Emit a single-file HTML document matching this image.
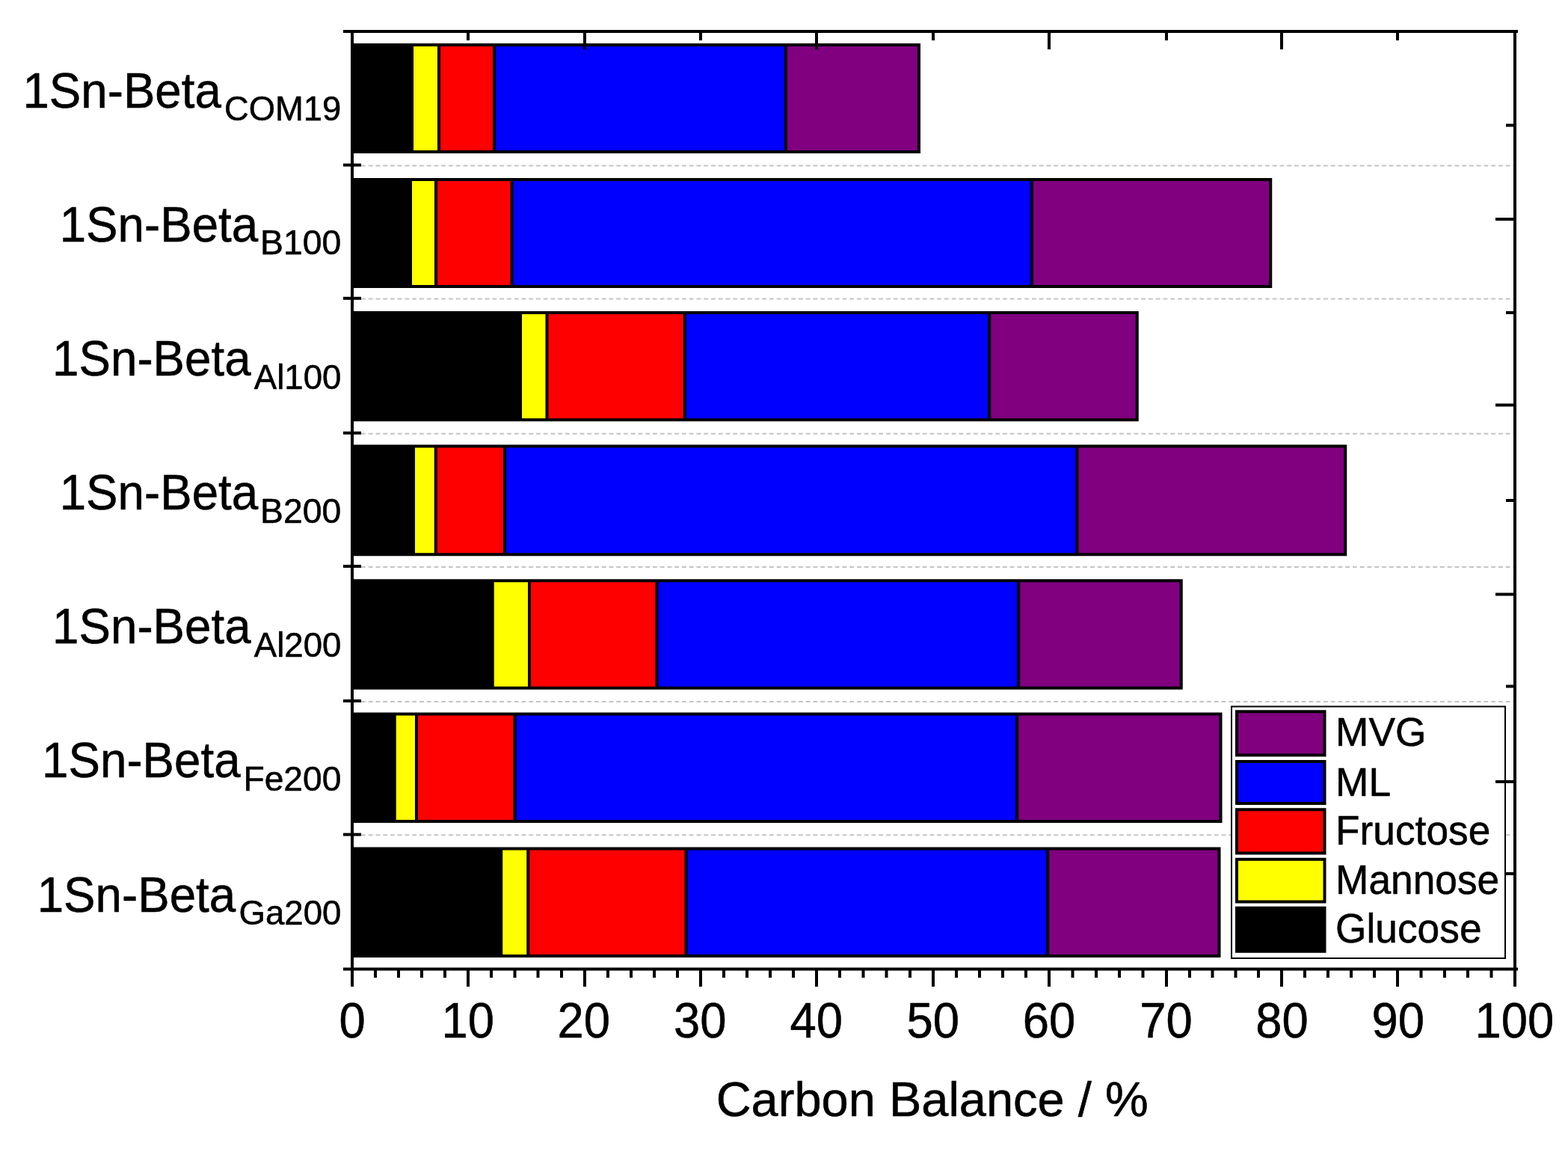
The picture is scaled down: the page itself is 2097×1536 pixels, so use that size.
<!DOCTYPE html>
<html lang="en"><head><meta charset="utf-8"><title>Carbon Balance</title>
<style>
html,body{margin:0;padding:0;background:#fff;}
body{width:2097px;height:1536px;overflow:hidden;}
svg{display:block;}
text{font-family:"Liberation Sans", Arial, Helvetica, sans-serif;fill:#000;stroke:#000;stroke-width:0.55px;stroke-linejoin:round;}
.ax{stroke:#000;fill:none;stroke-linecap:butt;}
.seg{stroke:none;}
.outline{fill:none;stroke:#000;stroke-width:4;stroke-linejoin:miter;stroke-linecap:butt;}
.grid{stroke:#c4c4c4;stroke-width:2;stroke-dasharray:5.8 3.95;fill:none;}
.ylab{font-size:65px;text-anchor:end;}
.sub{font-size:45.5px;text-anchor:end;}
.tick{font-size:65px;text-anchor:middle;}
.title{font-size:65px;text-anchor:middle;}
.leg{font-size:53.3px;}
</style></head><body>
<svg width="2097" height="1536" viewBox="0 0 2097 1536" role="img" aria-label="Stacked bar chart of carbon balance">
<rect x="0" y="0" width="2097" height="1536" fill="#ffffff"/>
<g class="grid">
<line x1="483" y1="221.4" x2="2024" y2="221.4"/>
<line x1="483" y1="399.6" x2="2024" y2="399.6"/>
<line x1="483" y1="579.7" x2="2024" y2="579.7"/>
<line x1="483" y1="757.9" x2="2024" y2="757.9"/>
<line x1="483" y1="938" x2="2024" y2="938"/>
<line x1="483" y1="1116.3" x2="2024" y2="1116.3"/>
</g>
<g>
<rect class="seg" x="471" y="60" width="80" height="143" fill="#000000"/>
<rect class="seg" x="551" y="60" width="36" height="143" fill="#ffff00"/>
<rect class="seg" x="587" y="60" width="74" height="143" fill="#ff0000"/>
<rect class="seg" x="661" y="60" width="390" height="143" fill="#0000ff"/>
<rect class="seg" x="1051" y="60" width="178" height="143" fill="#800080"/>
<path class="outline" d="M471 60H1229V203H471ZM551 60V203M587 60V203M661 60V203M1051 60V203"/>
</g>
<g>
<rect class="seg" x="471" y="240" width="78" height="143" fill="#000000"/>
<rect class="seg" x="549" y="240" width="34" height="143" fill="#ffff00"/>
<rect class="seg" x="583" y="240" width="101.5" height="143" fill="#ff0000"/>
<rect class="seg" x="684.5" y="240" width="695.5" height="143" fill="#0000ff"/>
<rect class="seg" x="1380" y="240" width="319.25" height="143" fill="#800080"/>
<path class="outline" d="M471 240H1699.25V383H471ZM549 240V383M583 240V383M684.5 240V383M1380 240V383"/>
</g>
<g>
<rect class="seg" x="471" y="418" width="225" height="143.25" fill="#000000"/>
<rect class="seg" x="696" y="418" width="35.5" height="143.25" fill="#ffff00"/>
<rect class="seg" x="731.5" y="418" width="184.25" height="143.25" fill="#ff0000"/>
<rect class="seg" x="915.75" y="418" width="407.5" height="143.25" fill="#0000ff"/>
<rect class="seg" x="1323.25" y="418" width="197.5" height="143.25" fill="#800080"/>
<path class="outline" d="M471 418H1520.75V561.25H471ZM696 418V561.25M731.5 418V561.25M915.75 418V561.25M1323.25 418V561.25"/>
</g>
<g>
<rect class="seg" x="471" y="596.5" width="82" height="144.75" fill="#000000"/>
<rect class="seg" x="553" y="596.5" width="29.75" height="144.75" fill="#ffff00"/>
<rect class="seg" x="582.75" y="596.5" width="92.25" height="144.75" fill="#ff0000"/>
<rect class="seg" x="675" y="596.5" width="765.5" height="144.75" fill="#0000ff"/>
<rect class="seg" x="1440.5" y="596.5" width="358.75" height="144.75" fill="#800080"/>
<path class="outline" d="M471 596.5H1799.25V741.25H471ZM553 596.5V741.25M582.75 596.5V741.25M675 596.5V741.25M1440.5 596.5V741.25"/>
</g>
<g>
<rect class="seg" x="471" y="776.25" width="187.75" height="143.5" fill="#000000"/>
<rect class="seg" x="658.75" y="776.25" width="49.25" height="143.5" fill="#ffff00"/>
<rect class="seg" x="708" y="776.25" width="170.5" height="143.5" fill="#ff0000"/>
<rect class="seg" x="878.5" y="776.25" width="483.75" height="143.5" fill="#0000ff"/>
<rect class="seg" x="1362.25" y="776.25" width="217.5" height="143.5" fill="#800080"/>
<path class="outline" d="M471 776.25H1579.75V919.75H471ZM658.75 776.25V919.75M708 776.25V919.75M878.5 776.25V919.75M1362.25 776.25V919.75"/>
</g>
<g>
<rect class="seg" x="471" y="954.6" width="56.75" height="143.4" fill="#000000"/>
<rect class="seg" x="527.75" y="954.6" width="29.25" height="143.4" fill="#ffff00"/>
<rect class="seg" x="557" y="954.6" width="131.5" height="143.4" fill="#ff0000"/>
<rect class="seg" x="688.5" y="954.6" width="671.75" height="143.4" fill="#0000ff"/>
<rect class="seg" x="1360.25" y="954.6" width="272.25" height="143.4" fill="#800080"/>
<path class="outline" d="M471 954.6H1632.5V1098H471ZM527.75 954.6V1098M557 954.6V1098M688.5 954.6V1098M1360.25 954.6V1098"/>
</g>
<g>
<rect class="seg" x="471" y="1134.6" width="199.25" height="143.4" fill="#000000"/>
<rect class="seg" x="670.25" y="1134.6" width="36" height="143.4" fill="#ffff00"/>
<rect class="seg" x="706.25" y="1134.6" width="211.25" height="143.4" fill="#ff0000"/>
<rect class="seg" x="917.5" y="1134.6" width="483.75" height="143.4" fill="#0000ff"/>
<rect class="seg" x="1401.25" y="1134.6" width="229.25" height="143.4" fill="#800080"/>
<path class="outline" d="M471 1134.6H1630.5V1278H471ZM670.25 1134.6V1278M706.25 1134.6V1278M917.5 1134.6V1278M1401.25 1134.6V1278"/>
</g>
<g>
<rect x="1647" y="944.5" width="366" height="336.5" fill="#ffffff" stroke="#000" stroke-width="2"/>
<rect x="1654" y="951.25" width="117.5" height="58.25" fill="#800080" stroke="#000" stroke-width="4"/>
<text class="leg" transform="translate(1786 997.2) scale(1 1.02)">MVG</text>
<rect x="1654" y="1018" width="117.5" height="56" fill="#0000ff" stroke="#000" stroke-width="4"/>
<text class="leg" transform="translate(1786 1063.5) scale(1 1.02)">ML</text>
<rect x="1654" y="1082.25" width="117.5" height="58.25" fill="#ff0000" stroke="#000" stroke-width="4"/>
<text class="leg" transform="translate(1786 1129) scale(1 1.025)">Fructose</text>
<rect x="1654" y="1148.75" width="117.5" height="56.75" fill="#ffff00" stroke="#000" stroke-width="4"/>
<text class="leg" transform="translate(1786 1194.7) scale(1 1.025)">Mannose</text>
<rect x="1654" y="1213.75" width="117.5" height="58" fill="#000000" stroke="#000" stroke-width="4"/>
<text class="leg" transform="translate(1786 1259.6) scale(1 1.025)">Glucose</text>
</g>
<g class="ax" stroke-width="4">
<line x1="459" y1="42" x2="2030" y2="42"/>
<line x1="459" y1="1295.4" x2="2030" y2="1295.4"/>
<line x1="471" y1="40" x2="471" y2="1319"/>
<line x1="2026" y1="40" x2="2026" y2="1319"/>
<line x1="459" y1="220.6" x2="483" y2="220.6"/>
<line x1="459" y1="398.8" x2="483" y2="398.8"/>
<line x1="459" y1="578.8" x2="483" y2="578.8"/>
<line x1="459" y1="757" x2="483" y2="757"/>
<line x1="459" y1="937" x2="483" y2="937"/>
<line x1="459" y1="1115.6" x2="483" y2="1115.6"/>
<line x1="2014" y1="167.5" x2="2026" y2="167.5"/>
<line x1="2000" y1="293" x2="2026" y2="293"/>
<line x1="2014" y1="418" x2="2026" y2="418"/>
<line x1="2000" y1="541.5" x2="2026" y2="541.5"/>
<line x1="2014" y1="669" x2="2026" y2="669"/>
<line x1="2000" y1="794.5" x2="2026" y2="794.5"/>
<line x1="2014" y1="917.5" x2="2026" y2="917.5"/>
<line x1="2000" y1="1045" x2="2026" y2="1045"/>
<line x1="2014" y1="1168" x2="2026" y2="1168"/>
<line x1="502" y1="1295.4" x2="502" y2="1307"/>
<line x1="533" y1="1295.4" x2="533" y2="1307"/>
<line x1="564" y1="1295.4" x2="564" y2="1307"/>
<line x1="595" y1="1295.4" x2="595" y2="1307"/>
<line x1="626" y1="1295.4" x2="626" y2="1319"/>
<line x1="626" y1="42" x2="626" y2="54"/>
<line x1="657" y1="1295.4" x2="657" y2="1307"/>
<line x1="688.5" y1="1295.4" x2="688.5" y2="1307"/>
<line x1="719.5" y1="1295.4" x2="719.5" y2="1307"/>
<line x1="751" y1="1295.4" x2="751" y2="1307"/>
<line x1="782" y1="1295.4" x2="782" y2="1319"/>
<line x1="782" y1="42" x2="782" y2="66"/>
<line x1="813" y1="1295.4" x2="813" y2="1307"/>
<line x1="844" y1="1295.4" x2="844" y2="1307"/>
<line x1="875" y1="1295.4" x2="875" y2="1307"/>
<line x1="906" y1="1295.4" x2="906" y2="1307"/>
<line x1="937" y1="1295.4" x2="937" y2="1319"/>
<line x1="937" y1="42" x2="937" y2="54"/>
<line x1="968" y1="1295.4" x2="968" y2="1307"/>
<line x1="999" y1="1295.4" x2="999" y2="1307"/>
<line x1="1030" y1="1295.4" x2="1030" y2="1307"/>
<line x1="1061" y1="1295.4" x2="1061" y2="1307"/>
<line x1="1092" y1="1295.4" x2="1092" y2="1319"/>
<line x1="1092" y1="42" x2="1092" y2="66"/>
<line x1="1123" y1="1295.4" x2="1123" y2="1307"/>
<line x1="1154.5" y1="1295.4" x2="1154.5" y2="1307"/>
<line x1="1185.5" y1="1295.4" x2="1185.5" y2="1307"/>
<line x1="1217" y1="1295.4" x2="1217" y2="1307"/>
<line x1="1248" y1="1295.4" x2="1248" y2="1319"/>
<line x1="1248" y1="42" x2="1248" y2="54"/>
<line x1="1279" y1="1295.4" x2="1279" y2="1307"/>
<line x1="1310" y1="1295.4" x2="1310" y2="1307"/>
<line x1="1341" y1="1295.4" x2="1341" y2="1307"/>
<line x1="1372" y1="1295.4" x2="1372" y2="1307"/>
<line x1="1403" y1="1295.4" x2="1403" y2="1319"/>
<line x1="1403" y1="42" x2="1403" y2="66"/>
<line x1="1434.5" y1="1295.4" x2="1434.5" y2="1307"/>
<line x1="1466" y1="1295.4" x2="1466" y2="1307"/>
<line x1="1497" y1="1295.4" x2="1497" y2="1307"/>
<line x1="1528.5" y1="1295.4" x2="1528.5" y2="1307"/>
<line x1="1560" y1="1295.4" x2="1560" y2="1319"/>
<line x1="1560" y1="42" x2="1560" y2="54"/>
<line x1="1591" y1="1295.4" x2="1591" y2="1307"/>
<line x1="1621.5" y1="1295.4" x2="1621.5" y2="1307"/>
<line x1="1652.5" y1="1295.4" x2="1652.5" y2="1307"/>
<line x1="1683" y1="1295.4" x2="1683" y2="1307"/>
<line x1="1714" y1="1295.4" x2="1714" y2="1319"/>
<line x1="1714" y1="42" x2="1714" y2="66"/>
<line x1="1745" y1="1295.4" x2="1745" y2="1307"/>
<line x1="1776" y1="1295.4" x2="1776" y2="1307"/>
<line x1="1807" y1="1295.4" x2="1807" y2="1307"/>
<line x1="1838" y1="1295.4" x2="1838" y2="1307"/>
<line x1="1869" y1="1295.4" x2="1869" y2="1319"/>
<line x1="1869" y1="42" x2="1869" y2="54"/>
<line x1="1900.5" y1="1295.4" x2="1900.5" y2="1307"/>
<line x1="1932" y1="1295.4" x2="1932" y2="1307"/>
<line x1="1963" y1="1295.4" x2="1963" y2="1307"/>
<line x1="1994.5" y1="1295.4" x2="1994.5" y2="1307"/>
</g>
<g>
<text class="tick" transform="translate(471.2 1387.4) scale(0.975 1.02)">0</text>
<text class="tick" transform="translate(625.7 1387.4) scale(0.975 1.02)">10</text>
<text class="tick" transform="translate(780.7 1387.4) scale(0.975 1.02)">20</text>
<text class="tick" transform="translate(936.3 1387.4) scale(0.975 1.02)">30</text>
<text class="tick" transform="translate(1091.7 1387.4) scale(0.975 1.02)">40</text>
<text class="tick" transform="translate(1247.7 1387.4) scale(0.975 1.02)">50</text>
<text class="tick" transform="translate(1402.9 1387.4) scale(0.975 1.02)">60</text>
<text class="tick" transform="translate(1559.5 1387.4) scale(0.975 1.02)">70</text>
<text class="tick" transform="translate(1714.5 1387.4) scale(0.975 1.02)">80</text>
<text class="tick" transform="translate(1869.8 1387.4) scale(0.975 1.02)">90</text>
<text class="tick" transform="translate(2025.3 1387.4) scale(0.975 1.02)">100</text>
<text class="title" transform="translate(1246.7 1492.3) scale(1 1.005)">Carbon Balance / %</text>
</g>
<g>
<text transform="translate(0 143.7) scale(1 1.022)"><tspan class="ylab" x="295.9" y="0" textLength="265.5" lengthAdjust="spacingAndGlyphs">1Sn-Beta</tspan><tspan class="sub" x="456.4" y="17.12" textLength="156.5" lengthAdjust="spacingAndGlyphs">COM19</tspan></text>
<text transform="translate(0 323) scale(1 1.022)"><tspan class="ylab" x="345.2" y="0" textLength="265.5" lengthAdjust="spacingAndGlyphs">1Sn-Beta</tspan><tspan class="sub" x="456.4" y="17.12" textLength="108.3" lengthAdjust="spacingAndGlyphs">B100</tspan></text>
<text transform="translate(0 502.1) scale(1 1.022)"><tspan class="ylab" x="335.6" y="0" textLength="265.5" lengthAdjust="spacingAndGlyphs">1Sn-Beta</tspan><tspan class="sub" x="456.4" y="17.12" textLength="116.7" lengthAdjust="spacingAndGlyphs">Al100</tspan></text>
<text transform="translate(0 681.2) scale(1 1.022)"><tspan class="ylab" x="345.2" y="0" textLength="265.5" lengthAdjust="spacingAndGlyphs">1Sn-Beta</tspan><tspan class="sub" x="456.4" y="17.12" textLength="108.3" lengthAdjust="spacingAndGlyphs">B200</tspan></text>
<text transform="translate(0 860.3) scale(1 1.022)"><tspan class="ylab" x="335.6" y="0" textLength="265.5" lengthAdjust="spacingAndGlyphs">1Sn-Beta</tspan><tspan class="sub" x="456.4" y="17.12" textLength="116.7" lengthAdjust="spacingAndGlyphs">Al200</tspan></text>
<text transform="translate(0 1039.3) scale(1 1.022)"><tspan class="ylab" x="321.6" y="0" textLength="265.5" lengthAdjust="spacingAndGlyphs">1Sn-Beta</tspan><tspan class="sub" x="456.4" y="17.12" textLength="130.9" lengthAdjust="spacingAndGlyphs">Fe200</tspan></text>
<text transform="translate(0 1218.5) scale(1 1.022)"><tspan class="ylab" x="315.2" y="0" textLength="265.5" lengthAdjust="spacingAndGlyphs">1Sn-Beta</tspan><tspan class="sub" x="456.4" y="17.12" textLength="136.9" lengthAdjust="spacingAndGlyphs">Ga200</tspan></text>
</g>
</svg>
</body></html>
